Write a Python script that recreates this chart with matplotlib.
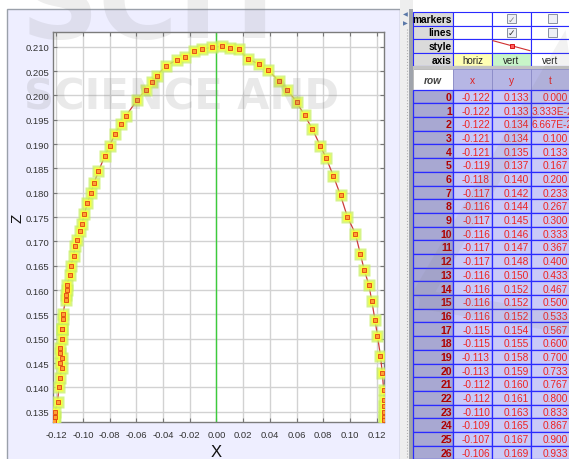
import numpy as np
import matplotlib.pyplot as plt
from matplotlib.patches import Rectangle, Polygon

plt.rcParams['font.family'] = ['Liberation Sans', 'DejaVu Sans']

# 轨迹数据: 前 27 个点来自右侧表格, 其余从图上读取
x_pos = [-0.122, -0.122, -0.122, -0.121, -0.121, -0.119, -0.118, -0.117, -0.116,
         -0.117, -0.116, -0.117, -0.117, -0.116, -0.116, -0.116, -0.116, -0.115,
         -0.115, -0.113, -0.113, -0.112, -0.112, -0.110, -0.109, -0.107, -0.106,
         -0.1043, -0.1020, -0.1008, -0.0990, -0.0966, -0.0942, -0.0916, -0.0884,
         -0.0836, -0.0798, -0.0763, -0.0714, -0.0680, -0.0596, -0.0528, -0.0484,
         -0.0448, -0.0378, -0.0295, -0.0232, -0.0171, -0.0105, -0.0036, 0.0039,
         0.0104, 0.0166, 0.0235, 0.0315, 0.0385, 0.0468, 0.0530, 0.0601, 0.0660,
         0.0719, 0.0778, 0.0822, 0.0875, 0.0929, 0.0980, 0.1040, 0.1078, 0.1106,
         0.1142, 0.1163, 0.1187, 0.1206, 0.1228, 0.1242, 0.1252, 0.1255, 0.1256,
         0.1257, 0.1257, 0.1256]
z_pos = [0.133, 0.133, 0.134, 0.134, 0.135, 0.137, 0.140, 0.142, 0.144,
         0.145, 0.146, 0.147, 0.148, 0.150, 0.152, 0.152, 0.152, 0.154,
         0.155, 0.158, 0.159, 0.160, 0.161, 0.163, 0.165, 0.167, 0.169,
         0.1703, 0.1722, 0.1736, 0.1756, 0.1779, 0.1799, 0.1821, 0.1844,
         0.1876, 0.1897, 0.1920, 0.1942, 0.1957, 0.1990, 0.2012, 0.2027,
         0.2040, 0.2061, 0.2073, 0.2079, 0.2091, 0.2095, 0.2099, 0.2101,
         0.2097, 0.2095, 0.2075, 0.2065, 0.2052, 0.2030, 0.2012, 0.1986, 0.1959,
         0.1931, 0.1896, 0.1871, 0.1835, 0.1795, 0.1751, 0.1716, 0.1674, 0.1642,
         0.1610, 0.1578, 0.1539, 0.1506, 0.1465, 0.1430, 0.1395, 0.1375, 0.1362,
         0.1350, 0.1340, 0.1332]
t_labels = ['0.000', '3.333E-2', '6.667E-2', '0.100', '0.133', '0.167', '0.200',
            '0.233', '0.267', '0.300', '0.333', '0.367', '0.400', '0.433', '0.467',
            '0.500', '0.533', '0.567', '0.600', '0.700', '0.733', '0.767', '0.800',
            '0.833', '0.867', '0.900', '0.933']
col_names = ['x', 'y', 't']
header_rows = ['markers', 'lines', 'style', 'axis']
axis_names = ['horiz', 'vert', 'vert']
axis_colors = ['#ffffb4', '#c8f5c8', 'white']
n_rows = len(t_labels)

x_ticks = np.round(np.arange(-0.12, 0.121, 0.02), 2)
z_ticks = np.round(np.arange(0.135, 0.2101, 0.005), 3)

W, H = 569, 460
fig = plt.figure(figsize=(W / 100, H / 100), dpi=100)
fig.patch.set_facecolor('white')


def px_rect(x0, y0, x1, y1):
    return [x0 / W, 1 - y1 / H, (x1 - x0) / W, (y1 - y0) / H]


# 背景层: 面板 + 表格
bg = fig.add_axes([0, 0, 1, 1], zorder=0)
bg.set_xlim(0, W)
bg.set_ylim(H, 0)
bg.axis('off')
bg.add_patch(Rectangle((7, 9.5), 393, 460, facecolor='#eeeeff', edgecolor='#9aa0aa', lw=1))

# 分隔栏
bg.add_patch(Rectangle((400, 0), 13, H, facecolor='#eeeeee', edgecolor='none'))
bg.plot([407, 407], [30, H], color='#b0b0b0', lw=0.8, ls=':')
bg.add_patch(Rectangle((409.5, 10), 3.5, H, facecolor='#a0a4ac', edgecolor='none'))
bg.text(405.5, 15, '◀', fontsize=4.5, color='#5a78a8', ha='center', va='center', family='DejaVu Sans')
bg.text(405.5, 24, '▶', fontsize=4.5, color='#5a78a8', ha='center', va='center', family='DejaVu Sans')

cols = [413, 453, 492, 531, 575]
hdr_y = [12.7, 26.7, 40, 54, 67.3]
grid_c = '#2a2aff'
fs = 7.3

for r, name in enumerate(header_rows):
    y0, y1 = hdr_y[r], hdr_y[r + 1]
    bg.add_patch(Rectangle((cols[0], y0), cols[1] - cols[0], y1 - y0,
                           facecolor='#dadada', edgecolor=grid_c, lw=0.8))
    bg.text(cols[1] - 1.5, (y0 + y1) / 2, name, fontsize=fs, fontweight='bold',
            ha='right', va='center', color='black')
    for c in range(3):
        fc = axis_colors[c] if name == 'axis' else 'white'
        bg.add_patch(Rectangle((cols[c + 1], y0), cols[c + 2] - cols[c + 1], y1 - y0,
                               facecolor=fc, edgecolor=grid_c, lw=0.8))
        cx = (cols[c + 1] + cols[c + 2]) / 2
        cy = (y0 + y1) / 2
        if name == 'axis':
            bg.text(min(cx, 550), cy + 0.5, axis_names[c], fontsize=fs - 0.3,
                    ha='center', va='center', color='#222222')
        elif name in ('markers', 'lines') and c > 0:
            bg.add_patch(Rectangle((cx - 4.5, cy - 4.5), 9, 9, facecolor='#eef0f6',
                                   edgecolor='#8890a0', lw=0.7))
            if c == 1:
                bg.text(cx, cy + 0.3, '✓', fontsize=6.5, ha='center', va='center',
                        color='#888888' if name == 'markers' else '#333333', family='DejaVu Sans')
        elif name == 'style' and c == 1:
            bg.plot([cols[2] + 1, cols[3] - 1], [y0 + 1.7, y1 - 2.3], color='#d03030', lw=0.8)
            bg.plot([cx + 1], [cy], marker='s', ms=3.2, mfc='#ff6060', mec='#d00000', mew=0.6)

# 分隔条
bg.add_patch(Rectangle((cols[0], 67.3), cols[4] - cols[0], 3, facecolor='#c4c4c4', edgecolor='none'))

# 列标题
row_top = 90.7
row_h = 13.69
bg.add_patch(Rectangle((cols[0], 70.3), cols[1] - cols[0], row_top - 70.3,
                       facecolor='white', edgecolor='#b0b0b0', lw=0.6))
bg.text((cols[0] + cols[1]) / 2, 80.5, 'row', fontsize=fs, fontstyle='italic',
        fontweight='bold', ha='center', va='center', color='#404040')
for c, name in enumerate(col_names):
    bg.add_patch(Rectangle((cols[c + 1], 70.3), cols[c + 2] - cols[c + 1], row_top - 70.3,
                           facecolor='#b6b6e4', edgecolor='#8a8ac8', lw=0.6))
    bg.text(min((cols[c + 1] + cols[c + 2]) / 2, 550), 81, name, fontsize=fs,
            ha='center', va='center', color='#e02020')

# 数据行
for i in range(n_rows):
    y0 = row_top + i * row_h
    cy = y0 + row_h / 2 + 0.3
    bg.add_patch(Rectangle((cols[0], y0), cols[1] - cols[0], row_h,
                           facecolor='#a8a8d2', edgecolor=grid_c, lw=0.9))
    bg.text(cols[1] - 1.2, cy, str(i), fontsize=fs + 0.3, fontweight='bold',
            ha='right', va='center', color='#b00000')
    vals = ['%.3f' % x_pos[i], '%.3f' % z_pos[i], t_labels[i]]
    for c in range(3):
        bg.add_patch(Rectangle((cols[c + 1], y0), cols[c + 2] - cols[c + 1], row_h,
                               facecolor='#cacaf8', edgecolor=grid_c, lw=0.9))
        if c == 2 and len(vals[c]) > 5:
            # 长数值在原表中被窗口右边缘截断
            bg.text(cols[3] + 1, cy, vals[c], fontsize=fs, ha='left', va='center', color='#ee2222')
        else:
            right = cols[c + 2] - 2 if c < 2 else 568
            bg.text(right, cy, vals[c], fontsize=fs, ha='right', va='center', color='#ee2222')

# 主图
ax = fig.add_axes(px_rect(53.3, 32.7, 384.3, 422.7), zorder=1)
ax.set_facecolor('white')
ax.set_xlim(-0.1222, 0.1257)
ax.set_ylim(0.13295, 0.2131)
ax.set_xticks(x_ticks)
ax.set_yticks(z_ticks)
ax.set_xticklabels(['%.2f' % abs(v) if abs(v) < 1e-9 else '%.2f' % v for v in x_ticks])
ax.set_yticklabels(['%.3f' % v for v in z_ticks])
ax.grid(True, color='#d2d2d2', lw=1)
ax.set_axisbelow(True)
for s in ax.spines.values():
    s.set_color('#7c7c7c')
    s.set_linewidth(1)
ax.tick_params(direction='in', length=3, width=0.8, color='#777777', labelsize=6.8,
               labelcolor='#333333', top=True, right=True)
ax.tick_params(axis='x', pad=6)
ax.tick_params(axis='y', pad=3)
ax.axvline(0, color='#3ccc3c', lw=1, zorder=1.5)

ax.plot(x_pos, z_pos, color='#cc3a3a', lw=0.9, zorder=2)
ax.plot(x_pos, z_pos, ls='none', marker='s', ms=8, mfc='#c8f060', mec='none', alpha=0.75, zorder=3)
ax.plot(x_pos, z_pos, ls='none', marker='s', ms=5.4, mfc='#f4ff40', mec='none', zorder=4)
ax.plot(x_pos, z_pos, ls='none', marker='s', ms=3.0, mfc='#ffa030', mec='#e04010', mew=0.6, zorder=5)

ax.set_xlabel('X', fontsize=12, color='#111111')
ax.set_ylabel('Z', fontsize=11, color='#111111')
ax.xaxis.set_label_coords(0.493, -0.058)
ax.yaxis.set_label_coords(-0.088, 0.525)

# 水印
wm = fig.add_axes([0, 0, 1, 1], zorder=5)
wm.set_xlim(0, W)
wm.set_ylim(H, 0)
wm.axis('off')
wm.patch.set_alpha(0)
wm.text(24, 98, 'SCIENCE AND', fontsize=30, fontweight='bold', color='#808080', alpha=0.17,
        ha='left', va='center', family='DejaVu Sans')
wm.text(20, 38, 'SCIT', fontsize=78, fontweight='bold', color='#808080', alpha=0.14,
        ha='left', va='baseline', family='DejaVu Sans')
wm.add_patch(Polygon([[420, 300], [560, 60], [600, 330]], closed=True, fill=False,
                     edgecolor='#808080', lw=14, alpha=0.1))

fig.savefig('out.png', dpi=100)
